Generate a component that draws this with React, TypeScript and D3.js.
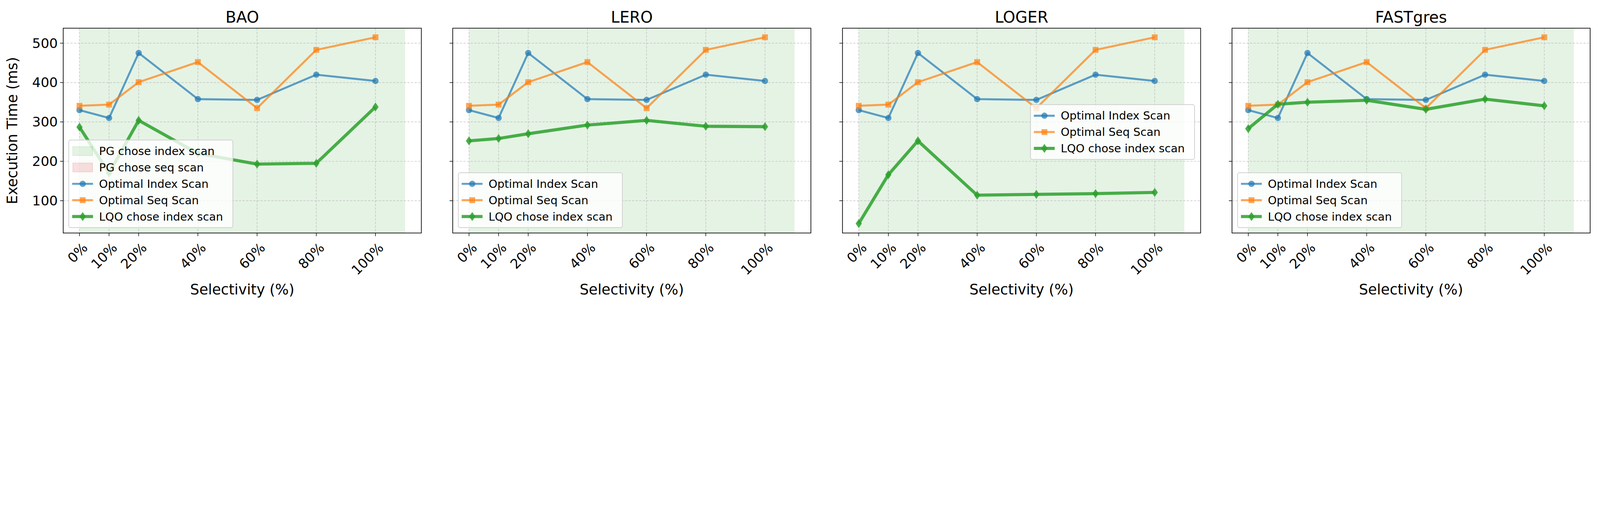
import React from "react";
import * as d3 from "d3";

const xs = [0, 10, 20, 40, 60, 80, 100];
const tickLabels = ["0%", "10%", "20%", "40%", "60%", "80%", "100%"];
const yTicks = [100, 200, 300, 400, 500];
const titles = ["BAO", "LERO", "LOGER", "FASTgres"];
const optIndex = [330, 310, 475, 358, 356, 420, 404];
const optSeq = [341, 344, 401, 452, 335, 483, 515];
const lqoBAO = [287, 170, 304, 220, 193, 195, 338];
const lqoLERO = [252, 258, 270, 292, 304, 289, 288];
const lqoLOGER = [42, 166, 252, 114, 116, 118, 121];
const lqoFAST = [283, 345, 350, 355, 332, 358, 341];
const lqoAll = [lqoBAO, lqoLERO, lqoLOGER, lqoFAST];

const W = 7111, H = 1347;
const panelLefts = [268, 2006, 3745, 5483];
const pw = 1598, top = 112, bottom = 1026;
const FONT = "DejaVu Sans, sans-serif";
const BLUE = "#1f77b4", ORANGE = "#ff7f0e", GREEN = "#2ca02c";

function Marker({ kind, x, y, color, op }: any) {
  if (kind === "circle") return <circle cx={x} cy={y} r={14} fill={color} fillOpacity={op} />;
  if (kind === "square") return <rect x={x - 13} y={y - 13} width={26} height={26} fill={color} fillOpacity={op} />;
  return <path d={`M${x},${y - 20}L${x + 14},${y}L${x},${y + 20}L${x - 14},${y}Z`} fill={color} fillOpacity={op} />;
}

function Panel({ i }: { i: number }) {
  const left = panelLefts[i];
  const x = d3.scaleLinear().domain([-5.5, 115.5]).range([left, left + pw]);
  const y = d3.scaleLinear().domain([18, 538]).range([bottom, top]);
  const line = d3.line<number>().x((_, j) => x(xs[j])).y((v) => y(v));
  const series = [
    { data: optIndex, color: BLUE, op: 0.7, w: 9, kind: "circle", label: "Optimal Index Scan" },
    { data: optSeq, color: ORANGE, op: 0.7, w: 9, kind: "square", label: "Optimal Seq Scan" },
    { data: lqoAll[i], color: GREEN, op: 0.85, w: 14, kind: "diamond", label: "LQO chose index scan" },
  ];
  const legendItems: any[] = [];
  if (i === 0) {
    legendItems.push({ patch: "#2ca02c", label: "PG chose index scan" });
    legendItems.push({ patch: "#d62728", label: "PG chose seq scan" });
  }
  series.forEach((s) => legendItems.push(s));
  const rowH = 73;
  const lw = 732;
  const lh = legendItems.length * rowH + 26;
  let lx = left + 25, ly = 1002 - lh;
  if (i === 2) { lx = 4584; ly = 453; }
  return (
    <g>
      <rect x={x(0)} y={top} width={x(110) - x(0)} height={bottom - top} fill={GREEN} fillOpacity={0.12} />
      {yTicks.map((t) => (
        <g key={t}>
          <line x1={left} x2={left + pw} y1={y(t)} y2={y(t)} stroke="#b0b0b0" strokeWidth={2.5} strokeDasharray="10,6" opacity={0.7} />
          <line x1={left - 14} x2={left} y1={y(t)} y2={y(t)} stroke="#000" strokeWidth={2.5} />
          {i === 0 && (
            <text x={left - 24} y={y(t)} dy="0.35em" textAnchor="end" fontSize={60} fontFamily={FONT}>{t}</text>
          )}
        </g>
      ))}
      {xs.map((v, j) => (
        <g key={v}>
          <line x1={x(v)} x2={x(v)} y1={top} y2={bottom} stroke="#b0b0b0" strokeWidth={2.5} strokeDasharray="10,6" opacity={0.7} />
          <line x1={x(v)} x2={x(v)} y1={bottom} y2={bottom + 14} stroke="#000" strokeWidth={2.5} />
          <text transform={`translate(${x(v) + 10},${bottom + 40}) rotate(-45)`} textAnchor="end" dy="0.7em" fontSize={60} fontFamily={FONT}>{tickLabels[j]}</text>
        </g>
      ))}
      {series.map((s) => (
        <g key={s.label}>
          <path d={line(s.data) || ""} fill="none" stroke={s.color} strokeOpacity={s.op} strokeWidth={s.w} strokeLinejoin="round" />
          {s.data.map((v, j) => <Marker key={j} kind={s.kind} x={x(xs[j])} y={y(v)} color={s.color} op={s.op} />)}
        </g>
      ))}
      <rect x={left} y={top} width={pw} height={bottom - top} fill="none" stroke="#000" strokeWidth={3} />
      <text x={left + pw / 2} y={top - 25} textAnchor="middle" fontSize={70} fontFamily={FONT}>{titles[i]}</text>
      <text x={left + pw / 2} y={1300} textAnchor="middle" fontSize={64} fontFamily={FONT}>Selectivity (%)</text>
      <g>
        <rect x={lx} y={ly} width={lw} height={lh} rx={8} fill="#fff" fillOpacity={0.8} stroke="#ccc" strokeWidth={3} />
        {legendItems.map((it, k) => {
          const cy = ly + 13 + rowH * k + rowH / 2;
          return (
            <g key={k}>
              {it.patch ? (
                <rect x={lx + 18} y={cy - 20} width={88} height={40} fill={it.patch} fillOpacity={it.patch === GREEN ? 0.12 : 0.15} stroke={it.patch} strokeOpacity={0.15} strokeWidth={3} />
              ) : (
                <g>
                  <line x1={lx + 15} x2={lx + 108} y1={cy} y2={cy} stroke={it.color} strokeOpacity={it.op} strokeWidth={it.w} />
                  <Marker kind={it.kind} x={lx + 62} y={cy} color={it.color} op={it.op} />
                </g>
              )}
              <text x={lx + 135} y={cy} dy="0.35em" fontSize={50} fontFamily={FONT}>{it.label}</text>
            </g>
          );
        })}
      </g>
    </g>
  );
}

export default function App() {
  return (
    <svg viewBox={`0 0 ${W} ${H}`} style={{ display: "block", background: "#fff", width: "100%", height: "auto" }}>
      <rect width={W} height={H} fill="#fff" />
      {[0, 1, 2, 3].map((i) => <Panel key={i} i={i} />)}
      <text transform={`translate(62,${(top + bottom) / 2}) rotate(-90)`} textAnchor="middle" fontSize={64} fontFamily={FONT}>Execution Time (ms)</text>
    </svg>
  );
}
